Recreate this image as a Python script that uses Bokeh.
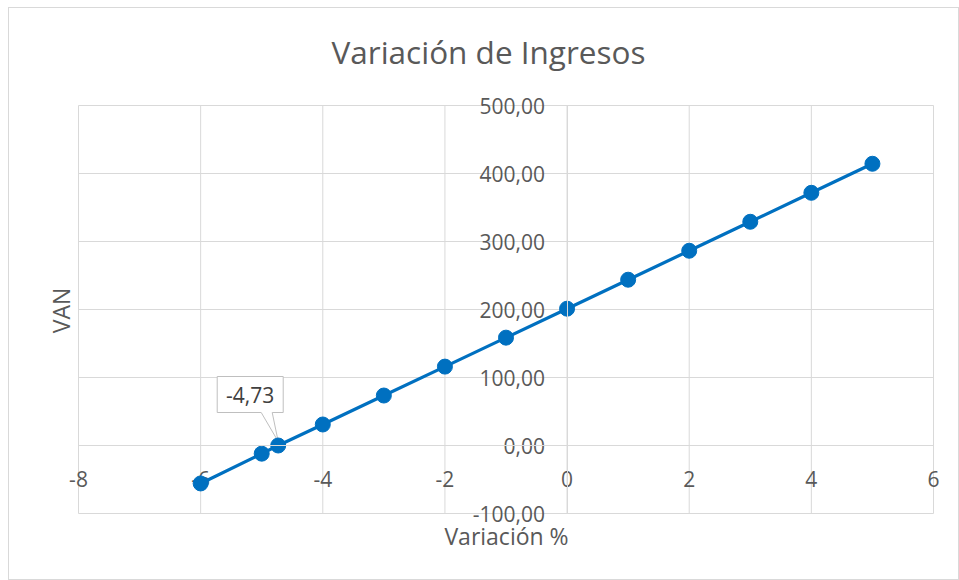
import math
from bokeh.plotting import figure
from bokeh.models import FixedTicker, Range1d, ColumnDataSource
from bokeh.core.properties import value
from bokeh.embed import file_html
from bokeh.resources import INLINE

# ---- data ----
chart_title = "Variación de Ingresos"
x_title = "Variación %"
y_title = "VAN"

x_ticks = [-8, -6, -4, -2, 0, 2, 4, 6]
x_tick_labels = ["-8", "-6", "-4", "-2", "0", "2", "4", "6"]
y_ticks = [-100, 0, 100, 200, 300, 400, 500]
y_tick_labels = ["-100,00", "0,00", "100,00", "200,00", "300,00", "400,00", "500,00"]

variacion = [-6, -5, -4.73, -4, -3, -2, -1, 0, 1, 2, 3, 4, 5]
van = [-55.8, -12.0, 0.0, 30.9, 73.5, 116.0, 158.6, 201.2, 243.8, 286.4, 329.0, 371.6, 414.3]

breakeven_x = -4.73
breakeven_y = 0.0
breakeven_label = "-4,73"

# ---- style / layout (pixels) ----
FONT = "Open Sans"
TXT = "#595959"
GRID = "#D9D9D9"
BLUE = "#0070C0"

W, H = 949, 571            # canvas size
PL, PT = 69, 97            # plot-area offset inside canvas
PW, PH = 855, 408          # plot-area size

x0, x1 = x_ticks[0], x_ticks[-1]
y0, y1 = y_ticks[0], y_ticks[-1]
sx = PW / (x1 - x0)        # px per x unit
sy = PH / (y1 - y0)        # px per y unit

xr0 = x0 - PL / sx
xr1 = xr0 + W / sx
yr1 = y1 + PT / sy
yr0 = yr1 - H / sy

p = figure(
    frame_width=W, frame_height=H, title=None,
    x_range=Range1d(xr0, xr1), y_range=Range1d(yr0, yr1),
    output_backend="svg", toolbar_location=None,
    min_border=0, min_border_left=0, min_border_right=0,
    min_border_top=0, min_border_bottom=0,
    background_fill_color="white", border_fill_color="white",
)
p.styles = {"border": "1px solid #D9D9D9", "margin-left": "8px", "margin-top": "7px"}
p.outline_line_color = None
p.grid.visible = False

# axes crossing at zero (lines only)
for ax, ticks, b in ((p.xaxis[0], x_ticks, (x0, x1)), (p.yaxis[0], y_ticks, (y0, y1))):
    ax.fixed_location = 0
    ax.ticker = FixedTicker(ticks=ticks)
    ax.bounds = b
    ax.axis_line_color = GRID
    ax.major_tick_line_color = None
    ax.minor_tick_line_color = None
    ax.major_label_text_color = None
    ax.major_label_text_alpha = 0
    ax.major_label_text_font_size = "1px"

# grid lines of the plot area
p.segment(x0=x_ticks, x1=x_ticks, y0=[y0] * len(x_ticks), y1=[y1] * len(x_ticks),
          line_color=GRID, line_width=1)
p.segment(x0=[x0] * len(y_ticks), x1=[x1] * len(y_ticks), y0=y_ticks, y1=y_ticks,
          line_color=GRID, line_width=1)

# tick labels
p.text(x=x_ticks, y=[0] * len(x_ticks), text=x_tick_labels, text_align="center",
       text_baseline="middle", y_offset=33, text_font=value(FONT),
       text_font_size="21px", text_color=TXT)
p.text(x=[0] * len(y_ticks), y=y_ticks, text=y_tick_labels, text_align="right",
       text_baseline="middle", x_offset=-22, text_font=value(FONT),
       text_font_size="21px", text_color=TXT)

# titles
p.text(x=[x0 + 410 / sx], y=[y1 + 54 / sy], text=[chart_title], text_align="center",
       text_baseline="middle", text_font=value(FONT), text_font_size="31.5px", text_color=TXT)
p.text(x=[x0 + 428 / sx], y=[y0 - 22 / sy], text=[x_title], text_align="center",
       text_baseline="middle", text_font=value(FONT), text_font_size="23px", text_color=TXT)
p.text(x=[x0 - 18 / sx], y=[y0 + 203 / sy], text=[y_title], text_align="center",
       text_baseline="middle", angle=math.pi / 2, text_font=value(FONT),
       text_font_size="23px", text_color=TXT)

# series
src = ColumnDataSource(dict(x=variacion, y=van))
p.line("x", "y", source=src, line_color=BLUE, line_width=3.2)

# callout box for break-even label (pixel offsets converted via scale)
def off(dx, dy):
    return breakeven_x + dx / sx, breakeven_y + dy / sy

offsets = [(-61, 33), (-17, 33), (0, 4), (-6, 33), (5, 33), (5, 69), (-61, 69)]
pts = [off(dx, dy) for dx, dy in offsets]
p.patch([q[0] for q in pts], [q[1] for q in pts], fill_color="white",
        line_color="#BFBFBF", line_width=1)

p.scatter("x", "y", source=src, size=15, fill_color=BLUE, line_color=BLUE)

cx, cy = off(-28, 51)
p.text(x=[cx], y=[cy], text=[breakeven_label], text_align="center", text_baseline="middle",
       text_font=value(FONT), text_font_size="21px", text_color="#404040")

open("out.html", "w").write(file_html(p, INLINE))
